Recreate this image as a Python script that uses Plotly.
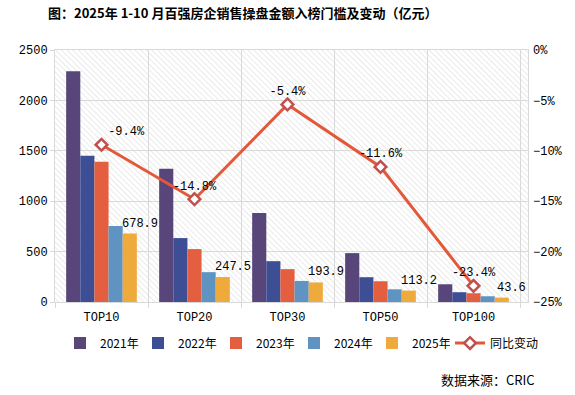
import base64
import plotly.graph_objects as go

categories = ["TOP10", "TOP20", "TOP30", "TOP50", "TOP100"]
years = ["2021年", "2022年", "2023年", "2024年", "2025年"]
v2021 = [2288, 1322, 883, 485, 176]
v2022 = [1451, 634, 405, 246, 97]
v2023 = [1391, 525, 326, 206, 87]
v2024 = [754, 296, 209, 126, 57]
v2025 = [678.9, 247.5, 193.9, 113.2, 43.6]
yoy = [-9.4, -14.8, -5.4, -11.6, -23.4]
line_name = "同比变动"

colors = ["#58457A", "#3D4E94", "#E45F3F", "#5E93C2", "#EFAA3C"]
series = [v2021, v2022, v2023, v2024, v2025]

FONT = "Noto Sans CJK SC"
MONO = "Liberation Mono"

fig = go.Figure()
for name, vals, c in zip(years, series, colors):
    fig.add_trace(go.Bar(x=categories, y=vals, name=name, marker_color=c,
                         marker_line_width=0, legend="legend"))

fig.add_trace(go.Scatter(
    x=categories, y=yoy, name=line_name, yaxis="y2", mode="lines+markers+text",
    line=dict(color="#E4583A", width=3),
    marker=dict(symbol="diamond", size=9, color="white",
                line=dict(color="#C0504D", width=2.5)),
    text=[f"{v}%" for v in yoy],
    textposition=["top right", "top center", "top center", "top center", "top center"],
    textfont=dict(family=MONO, size=12, color="black"),
    cliponaxis=False, legend="legend2",
))

for cat, v in zip(categories, v2025):
    fig.add_annotation(x=cat, y=v, xref="x", yref="y", text=f"{v}",
                       showarrow=False, xshift=38, yanchor="bottom", yshift=1,
                       font=dict(family=MONO, size=12, color="black"))

svg = ('<svg xmlns="http://www.w3.org/2000/svg" width="473" height="252">'
       '<defs><pattern id="p" width="4" height="4" patternUnits="userSpaceOnUse" '
       'patternTransform="rotate(-45)"><line x1="0" y1="0" x2="0" y2="4" '
       'stroke="#d9d9d9" stroke-width="1.1"/></pattern></defs>'
       '<rect width="473" height="252" fill="white"/>'
       '<rect width="473" height="252" fill="url(#p)"/></svg>')
uri = "data:image/svg+xml;base64," + base64.b64encode(svg.encode()).decode()

fig.add_layout_image(source=uri, xref="paper", yref="paper", x=0, y=1,
                     sizex=1, sizey=1, sizing="stretch", layer="below",
                     xanchor="left", yanchor="top")

legend_common = dict(orientation="h", xref="container", yanchor="middle",
                     y=-0.163, font=dict(family=FONT, size=12), itemwidth=30,
                     traceorder="normal", bgcolor="rgba(0,0,0,0)")

fig.update_layout(
    width=575, height=395,
    margin=dict(l=55, r=47, t=50, b=93, autoexpand=False),
    paper_bgcolor="white", plot_bgcolor="rgba(0,0,0,0)",
    barmode="group", bargap=0.24, bargroupgap=0,
    font=dict(family=FONT, size=12, color="black"),
    title=dict(text="<b>图：2025年 1-10 月百强房企销售操盘金额入榜门槛及变动（亿元）</b>",
               x=48/575, xanchor="left", y=0.966, yanchor="middle",
               font=dict(family=FONT, size=13, color="black")),
    xaxis=dict(tickson="boundaries", showgrid=True, gridcolor="#d9d9d9",
               showline=True, linecolor="#d9d9d9", mirror=True,
               ticks="outside", tickcolor="#d9d9d9", ticklen=5,
               ticklabelstandoff=4,
               tickfont=dict(family=MONO, size=12)),
    yaxis=dict(range=[0, 2500], dtick=500, showgrid=True, gridcolor="#d9d9d9",
               showline=True, linecolor="#d9d9d9", mirror=True,
               ticks="outside", tickcolor="#d9d9d9", ticklen=4,
               tickfont=dict(family=MONO, size=12), zeroline=False),
    yaxis2=dict(range=[-25, 0], dtick=5, overlaying="y", side="right",
                ticksuffix="%", showgrid=False, zeroline=False,
                ticklabelstandoff=4,
                tickfont=dict(family=MONO, size=12)),
    legend=dict(**legend_common, x=60/575, xanchor="left",
                entrywidth=33, entrywidthmode="pixels"),
    legend2=dict(**legend_common, x=450/575, xanchor="left"),
    showlegend=True,
)

fig.add_annotation(text="数据来源：CRIC", xref="paper", yref="paper",
                   x=1.019, y=-0.3056, xanchor="right", yanchor="middle",
                   showarrow=False, font=dict(family=FONT, size=13))

fig.write_html("out.html", config={"displayModeBar": False},
               post_script="document.body.style.margin='0';")
